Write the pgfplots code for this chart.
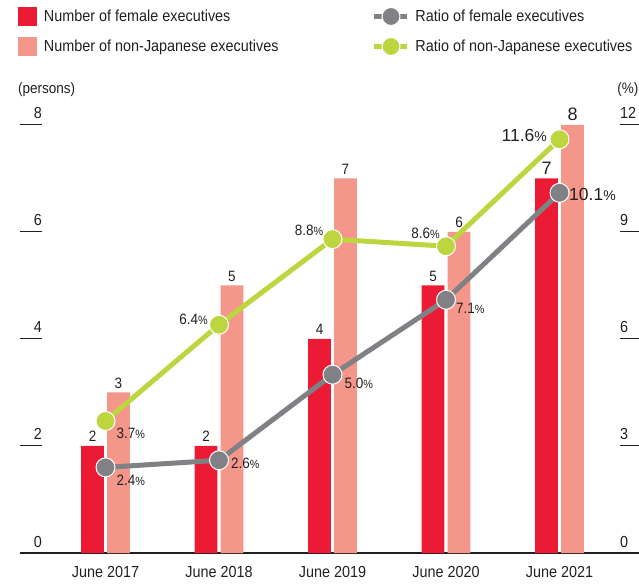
\documentclass[border=0pt]{standalone}
\usepackage{fontspec}
\setmainfont{Liberation Sans}[FakeStretch=0.9]
\newfontfamily\wide{Liberation Sans}
\usepackage{pgfplots}
\pgfplotsset{compat=1.18}
\usepackage{pgfplotstable}
\definecolor{redc}{HTML}{EC1B35}
\definecolor{salc}{HTML}{F4978A}
\definecolor{greyc}{HTML}{808184}
\definecolor{grnc}{HTML}{BDD53E}
\definecolor{txt}{HTML}{231F20}
\newcommand\fs[1]{\fontsize{#1bp}{#1bp}\selectfont}
\newcommand\pct[1]{\fs{15}#1{\fs{12}\%}}
\newcommand\bpct[1]{\wide\fs{17.5}#1{\fs{14}\%}}
\tikzset{lab/.style={inner sep=0pt, text=txt}}
\pgfplotstableread{
x f n rf rn
0 2 3 2.4 3.7
1 2 5 2.6 6.4
2 4 7 5.0 8.8
3 5 6 7.1 8.6
4 7 8 10.1 11.6
}\data
\begin{document}
\begin{tikzpicture}
\path[use as bounding box] (0,0) rectangle (639bp,585bp);
\begin{axis}[
  at={(20bp,32bp)}, anchor=south west,
  scale only axis, width=619bp, height=454.75bp,
  xmin=-0.7533, xmax=4.7004, ymin=0, ymax=8.5,
  axis y line=none, axis x line=bottom,
  x axis line style={-, line width=1.2bp, color=txt},
  xtick={0,1,2,3,4},
  xticklabels={June 2017,June 2018,June 2019,June 2020,June 2021},
  major tick length=0pt,
  xticklabel style={font=\fs{16}, text=txt, anchor=base, yshift=-24.5bp},
  clip=false,
  legend columns=2,
  legend style={at={(-0.00323,1.2007)}, anchor=north west, draw=none, fill=none,
    inner sep=0pt, outer sep=0pt, row sep=11bp, column sep=0pt,
    font=\fs{16}, text=txt, nodes={inner sep=0pt}},
  legend cell align=left,
]
\addlegendimage{legend image code/.code={\path[draw=none,fill=none] (0bp,-9.5bp) rectangle (26bp,9.5bp); \fill[redc, draw=none] (0bp,-9.5bp) rectangle (19bp,9.5bp);}}
\addlegendentry{\makebox[328bp][l]{Number of female executives}}
\addlegendimage{legend image code/.code={\path[draw=none,fill=none] (0bp,-9.5bp) rectangle (41bp,9.5bp); \draw[greyc, line width=5bp] (0bp,0bp) -- (33bp,0bp); \filldraw[fill=greyc, draw=white, line width=1bp] (16.5bp,0bp) circle (9bp);}}
\addlegendentry{Ratio of female executives}
\addlegendimage{legend image code/.code={\path[draw=none,fill=none] (0bp,-9.5bp) rectangle (26bp,9.5bp); \fill[salc, draw=none] (0bp,-9.5bp) rectangle (19bp,9.5bp);}}
\addlegendentry{\makebox[328bp][l]{Number of non-Japanese executives}}
\addlegendimage{legend image code/.code={\path[draw=none,fill=none] (0bp,-9.5bp) rectangle (41bp,9.5bp); \draw[grnc, line width=5bp] (0bp,0bp) -- (33bp,0bp); \filldraw[fill=grnc, draw=white, line width=1bp] (16.5bp,0bp) circle (9bp);}}
\addlegendentry{Ratio of non-Japanese executives}

\addplot[forget plot, ybar, bar width=0.2, bar shift=0pt, fill=redc, draw=none]
  table[x expr=\thisrow{x}-0.1145, y=f]{\data};
\addplot[forget plot, ybar, bar width=0.2, bar shift=0pt, fill=salc, draw=none]
  table[x expr=\thisrow{x}+0.1145, y=n]{\data};
\addplot[forget plot, greyc, line width=5bp, mark=*, mark size=9.5bp,
  mark options={fill=greyc, draw=white, line width=1bp}]
  table[x=x, y expr=\thisrow{rf}/1.5]{\data};
\addplot[forget plot, grnc, line width=5bp, mark=*, mark size=9.5bp,
  mark options={fill=grnc, draw=white, line width=1bp}]
  table[x=x, y expr=\thisrow{rn}/1.5]{\data};

% axis ticks left and right
\draw[txt, line width=1bp] (axis cs:-0.7533,2) -- (axis cs:-0.5595,2);
\draw[txt, line width=1bp] (axis cs:-0.7533,4) -- (axis cs:-0.5595,4);
\draw[txt, line width=1bp] (axis cs:-0.7533,6) -- (axis cs:-0.5595,6);
\draw[txt, line width=1bp] (axis cs:-0.7533,8) -- (axis cs:-0.5595,8);
\draw[txt, line width=1bp] (axis cs:4.533,2) -- (axis cs:4.7004,2);
\draw[txt, line width=1bp] (axis cs:4.533,4) -- (axis cs:4.7004,4);
\draw[txt, line width=1bp] (axis cs:4.533,6) -- (axis cs:4.7004,6);
\draw[txt, line width=1bp] (axis cs:4.533,8) -- (axis cs:4.7004,8);
\node[lab, anchor=base east, font=\fs{16}, yshift=6bp] at (axis cs:-0.5595,0) {0};
\node[lab, anchor=base east, font=\fs{16}, yshift=6bp] at (axis cs:-0.5595,2) {2};
\node[lab, anchor=base east, font=\fs{16}, yshift=6bp] at (axis cs:-0.5595,4) {4};
\node[lab, anchor=base east, font=\fs{16}, yshift=6bp] at (axis cs:-0.5595,6) {6};
\node[lab, anchor=base east, font=\fs{16}, yshift=6bp] at (axis cs:-0.5595,8) {8};
\node[lab, anchor=base west, font=\fs{16}, yshift=6bp] at (axis cs:4.533,0) {0};
\node[lab, anchor=base west, font=\fs{16}, yshift=6bp] at (axis cs:4.533,2) {3};
\node[lab, anchor=base west, font=\fs{16}, yshift=6bp] at (axis cs:4.533,4) {6};
\node[lab, anchor=base west, font=\fs{16}, yshift=6bp] at (axis cs:4.533,6) {9};
\node[lab, anchor=base west, font=\fs{16}, yshift=6bp] at (axis cs:4.533,8) {12};
\node[lab, anchor=base west, font=\fs{15}] at (axis cs:-0.771,8.589) {(persons)};
\node[lab, anchor=base east, font=\fs{15}] at (axis cs:4.697,8.589) {(\%)};

% bar labels
\node[lab, anchor=base, font=\fs{15}, yshift=4bp] at (axis cs:-0.1145,2) {2};
\node[lab, anchor=base, font=\fs{15}, yshift=4bp] at (axis cs:0.1145,3) {3};
\node[lab, anchor=base, font=\fs{15}, yshift=4bp] at (axis cs:0.8855,2) {2};
\node[lab, anchor=base, font=\fs{15}, yshift=4bp] at (axis cs:1.1145,5) {5};
\node[lab, anchor=base, font=\fs{15}, yshift=4bp] at (axis cs:1.8855,4) {4};
\node[lab, anchor=base, font=\fs{15}, yshift=4bp] at (axis cs:2.1145,7) {7};
\node[lab, anchor=base, font=\fs{15}, yshift=4bp] at (axis cs:2.8855,5) {5};
\node[lab, anchor=base, font=\fs{15}, yshift=4bp] at (axis cs:3.1145,6) {6};
\node[lab, anchor=base, font=\wide\fs{18}, yshift=4bp] at (axis cs:3.8855,7) {7};
\node[lab, anchor=base, font=\wide\fs{18}, yshift=4bp] at (axis cs:4.1145,8) {8};

% percentage labels
\node[lab, anchor=west, xshift=11bp, yshift=-12bp] at (axis cs:0,2.4667) {\pct{3.7}};
\node[lab, anchor=west, xshift=11bp, yshift=-13bp] at (axis cs:0,1.6) {\pct{2.4}};
\node[lab, anchor=west, xshift=12bp, yshift=-3bp] at (axis cs:1,1.7333) {\pct{2.6}};
\node[lab, anchor=east, xshift=-11bp, yshift=5bp] at (axis cs:1,4.2667) {\pct{6.4}};
\node[lab, anchor=east, xshift=-9bp, yshift=9bp] at (axis cs:2,5.8667) {\pct{8.8}};
\node[lab, anchor=west, xshift=12bp, yshift=-9bp] at (axis cs:2,3.3333) {\pct{5.0}};
\node[lab, anchor=east, xshift=-6bp, yshift=13bp] at (axis cs:3,5.7333) {\pct{8.6}};
\node[lab, anchor=west, xshift=10bp, yshift=-9bp] at (axis cs:3,4.7333) {\pct{7.1}};
\node[lab, anchor=east, xshift=-12.5bp, yshift=4bp] at (axis cs:4,7.7333) {\bpct{11.6}};
\node[lab, anchor=west, xshift=9.5bp, yshift=-2bp] at (axis cs:4,6.7333) {\bpct{10.1}};
\end{axis}
\end{tikzpicture}
\end{document}
